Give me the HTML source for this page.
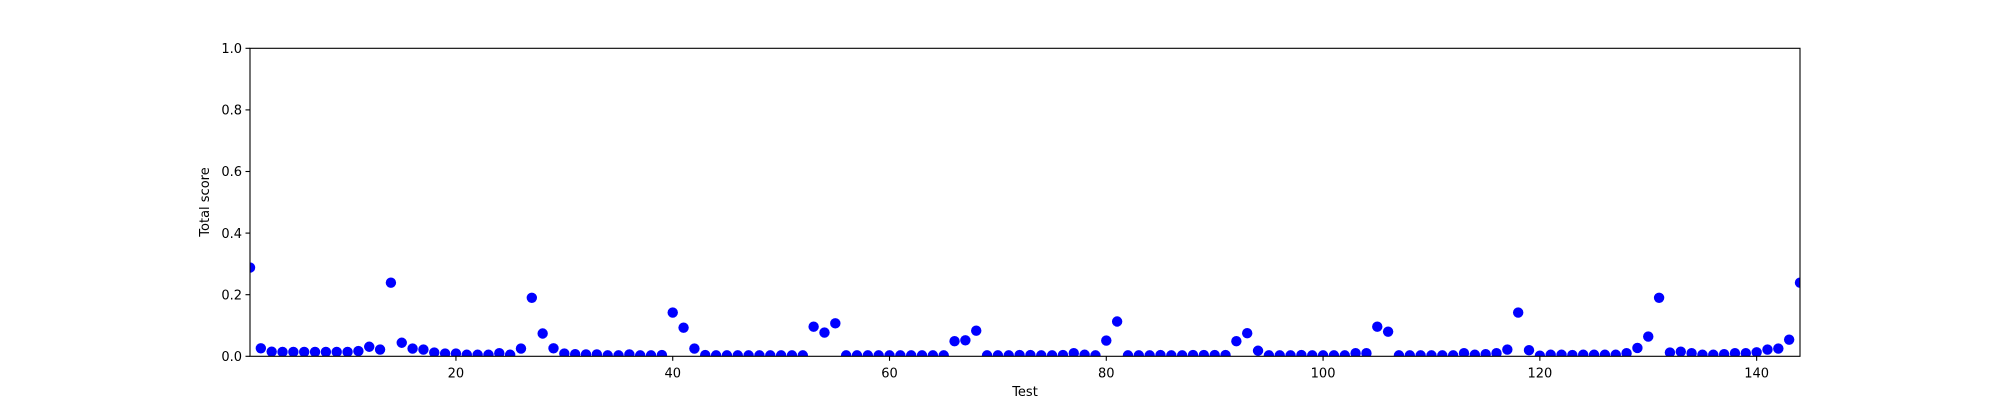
<!DOCTYPE html>
<html><head><meta charset="utf-8"><style>
html,body{margin:0;padding:0;background:#fff;}
svg{display:block;font-family:"DejaVu Sans","Liberation Sans",sans-serif;}
</style></head><body>
<svg id="chart" width="2000" height="400" viewBox="0 0 2000 400">
<rect x="0" y="0" width="2000" height="400" fill="#fff"/>
<g id="ticks"></g>
<g id="points"></g>
<rect x="250" y="48.3" width="1550" height="308" fill="none" stroke="#000" stroke-width="1.1"/>
<text x="1025" y="396" font-size="13" text-anchor="middle">Test</text>
<text transform="translate(209,202) rotate(-90)" font-size="13" text-anchor="middle">Total score</text>
</svg>
<script>
const testIds = Array.from({length:144},(_,i)=>i+1);
const scores = [
0.288,0.026,0.015,0.014,0.014,0.014,0.014,0.014,0.014,0.014,
0.017,0.031,0.022,0.239,0.044,0.025,0.022,0.012,0.009,0.009,
0.005,0.005,0.005,0.010,0.005,0.025,0.190,0.074,0.026,0.009,
0.007,0.006,0.006,0.003,0.003,0.006,0.003,0.003,0.004,0.142,
0.093,0.025,0.004,0.003,0.003,0.003,0.003,0.003,0.003,0.003,
0.003,0.003,0.096,0.077,0.107,0.003,0.003,0.003,0.003,0.003,
0.003,0.003,0.003,0.003,0.003,0.049,0.052,0.083,0.003,0.003,
0.003,0.004,0.004,0.003,0.003,0.004,0.010,0.005,0.003,0.051,
0.113,0.003,0.003,0.003,0.004,0.003,0.003,0.004,0.004,0.004,
0.004,0.049,0.075,0.018,0.003,0.003,0.003,0.004,0.003,0.003,
0.003,0.003,0.010,0.010,0.096,0.080,0.003,0.003,0.003,0.003,
0.003,0.003,0.010,0.005,0.007,0.010,0.022,0.142,0.020,0.002,
0.005,0.005,0.004,0.005,0.005,0.005,0.005,0.010,0.027,0.064,
0.190,0.012,0.015,0.010,0.005,0.005,0.007,0.010,0.010,0.013,
0.022,0.025,0.054,0.239];
const xTicks = [20,40,60,80,100,120,140];
const yTicks = [0,0.2,0.4,0.6,0.8,1.0];
const yTickLabels = ["0.0","0.2","0.4","0.6","0.8","1.0"];

const X0=250,X1=1800,Y0=356.3,Y1=48.3;
const xMin=1,xMax=144;
const xs=v=>X0+(v-xMin)/(xMax-xMin)*(X1-X0);
const ys=v=>Y0-v*(Y0-Y1);
const NS="http://www.w3.org/2000/svg";
const tg=document.getElementById('ticks');
const pg=document.getElementById('points');
function mk(tag,attrs,parent){const e=document.createElementNS(NS,tag);for(const k in attrs)e.setAttribute(k,attrs[k]);parent.appendChild(e);return e;}
xTicks.forEach(t=>{
  const l=mk('line',{x1:xs(t),x2:xs(t),y1:Y0,y2:Y0+4.5,stroke:'#000','stroke-width':1.1},tg);
  
  
  const tx=mk('text',{x:xs(t),y:Y0+21,'font-size':13,'text-anchor':'middle'},tg);
  tx.textContent=t;
  
  
});
yTicks.forEach((t,i)=>{
  const l=mk('line',{x1:X0-4.5,x2:X0,y1:ys(t),y2:ys(t),stroke:'#000','stroke-width':1.1},tg);
  
  
  const tx=mk('text',{x:X0-8,y:ys(t)+4.7,'font-size':13,'text-anchor':'end'},tg);
  tx.textContent=yTickLabels[i];
  
  
});
const clip=mk('clipPath',{id:'pc'},document.getElementById('chart'));
mk('rect',{x:X0,y:Y1,width:X1-X0,height:Y0-Y1},clip);
pg.setAttribute('clip-path','url(#pc)');
testIds.forEach((id,i)=>{
  const c=mk('circle',{cx:xs(id),cy:ys(scores[i]),r:5.2,fill:'#0000ff'},pg);
  
  
});
</script>
</body></html>
